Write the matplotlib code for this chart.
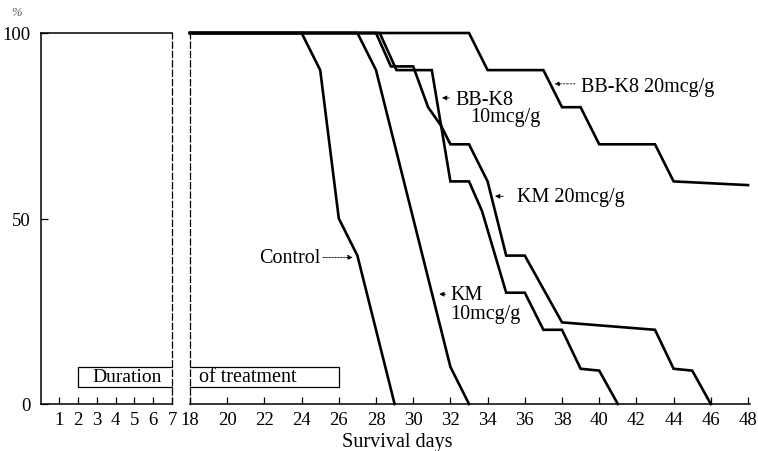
import matplotlib
matplotlib.use("Agg")
import matplotlib.pyplot as plt

# ── DATA ────────────────────────────────────────────────────────────────────
control_days = [18, 24, 25, 26, 27, 29]
control_pct  = [100, 100, 90, 50, 40, 0]

km10_days = [18, 27, 28, 32, 33]
km10_pct  = [100, 100, 90, 10, 0]

km20_days = [18, 28, 28.8, 30, 30.8, 31.5, 32, 33, 34, 35, 36, 38, 43, 44, 45, 46]
km20_pct  = [100, 100, 91, 91, 80, 75, 70, 70, 60, 40, 40, 22, 20, 9.5, 9, 0]

bb10_days = [18, 28.2, 29.1, 31, 32, 33, 33.7, 35, 36, 37, 38, 39, 40, 41]
bb10_pct  = [100, 100, 90, 90, 60, 60, 52, 30, 30, 20, 20, 9.5, 9, 0]

bb20_days = [18, 33, 34, 37, 38, 39, 40, 43, 44, 48]
bb20_pct  = [100, 100, 90, 90, 80, 80, 70, 70, 60, 59]

left_ticks  = [1, 2, 3, 4, 5, 6, 7]
right_ticks = list(range(18, 49, 2))
y_ticks     = [0, 50, 100]

FONT = "Liberation Serif"
plt.rcParams["font.family"] = FONT

W, H = 758, 452
fig = plt.figure(figsize=(W / 100, H / 100), dpi=100)

def px_ax(x0, x1, y_top=34, y_bot=405):
    return [x0 / W, 1 - y_bot / H, (x1 - x0) / W, (y_bot - y_top) / H]

LBL = 14.5   # etichette curve
TCK = 13.5   # tick

# ── PANNELLO SINISTRO (giorni 1-7) ─────────────────────────────────────────
axL = fig.add_axes(px_ax(40.5, 172))
axL.set_xlim(0, 7)
axL.set_ylim(0, 100)
for s in ["left", "bottom", "top"]:
    axL.spines[s].set_linewidth(1.1)
axL.spines["right"].set_linestyle((0, (5, 2.5)))
axL.spines["right"].set_linewidth(0.9)
axL.set_xticks(left_ticks)
axL.set_xticklabels([str(t) for t in left_ticks])
axL.set_yticks(y_ticks)
axL.set_yticklabels([str(t) for t in y_ticks])
axL.tick_params(axis="both", direction="in", length=5, width=0.9, labelsize=TCK, pad=5)
axL.tick_params(axis="y", pad=7)

# riquadro "Duration"
axL.plot([7, 2, 2, 7], [4.6, 4.6, 10, 10], color="black", lw=0.9, clip_on=False)
axL.text(4.6, 7.3, "Duration", ha="center", va="center", fontsize=14)

# ── PANNELLO DESTRO (giorni 18-48) ─────────────────────────────────────────
axR = fig.add_axes(px_ax(190, 190 + (748 - 190) * 30.1 / 30))
axR.set_xlim(18, 48.1)
axR.set_ylim(0, 100)
axR.spines["top"].set_visible(False)
axR.spines["right"].set_visible(False)
axR.spines["bottom"].set_linewidth(1.1)
axR.spines["left"].set_linestyle((0, (5, 2.5)))
axR.spines["left"].set_linewidth(0.9)
axR.set_xticks(right_ticks)
axR.set_xticklabels([str(t) for t in right_ticks])
axR.set_yticks([])
axR.tick_params(axis="x", direction="in", length=5, width=0.9, labelsize=TCK, pad=5)

axR.plot([18, 26, 26, 18], [10, 10, 4.6, 4.6], color="black", lw=0.9, clip_on=False)
axR.text(18.5, 7.3, "of treatment", ha="left", va="center", fontsize=14.5)

for d, p in [(control_days, control_pct), (km10_days, km10_pct),
             (km20_days, km20_pct), (bb10_days, bb10_pct), (bb20_days, bb20_pct)]:
    axR.plot(d, p, color="black", lw=1.9, clip_on=False, solid_joinstyle="miter")

# ── ETICHETTE ──────────────────────────────────────────────────────────────
arr = dict(arrowstyle="-|>", color="black", lw=0.6, mutation_scale=7,
           shrinkA=0, shrinkB=0)

axR.annotate("Control", xy=(26.75, 39.5), xytext=(25.0, 39.5),
             ha="right", va="center", fontsize=LBL,
             arrowprops=dict(arr, linestyle=(0, (2, 1.5))))

axR.annotate("", xy=(31.4, 29.6), xytext=(31.75, 29.6), arrowprops=arr)
axR.text(32.0, 29.6, "KM", ha="left", va="center", fontsize=LBL)
axR.text(32.0, 24.3, "10mcg/g", ha="left", va="center", fontsize=LBL)

axR.annotate("", xy=(31.55, 82.5), xytext=(31.95, 82.5), arrowprops=arr)
axR.text(32.25, 82.2, "BB-K8", ha="left", va="center", fontsize=LBL)
axR.text(33.05, 77.4, "10mcg/g", ha="left", va="center", fontsize=LBL)

axR.annotate("", xy=(34.4, 56), xytext=(34.85, 56), arrowprops=arr)
axR.text(35.6, 55.8, "KM 20mcg/g", ha="left", va="center", fontsize=LBL)

axR.annotate("", xy=(37.6, 86.3), xytext=(38.7, 86.3),
             arrowprops=dict(arr, linestyle=(0, (2, 2))))
axR.text(39.0, 85.7, "BB-K8 20mcg/g", ha="left", va="center", fontsize=LBL)

fig.text(16 / W, 1 - 13 / H, "%", ha="center", va="center", fontsize=9,
         style="italic", color="#555555")
fig.text(397 / W, 1 - 443 / H, "Survival days", ha="center", va="center",
         fontsize=14.5)

plt.savefig("out.png", dpi=100)
plt.close()
